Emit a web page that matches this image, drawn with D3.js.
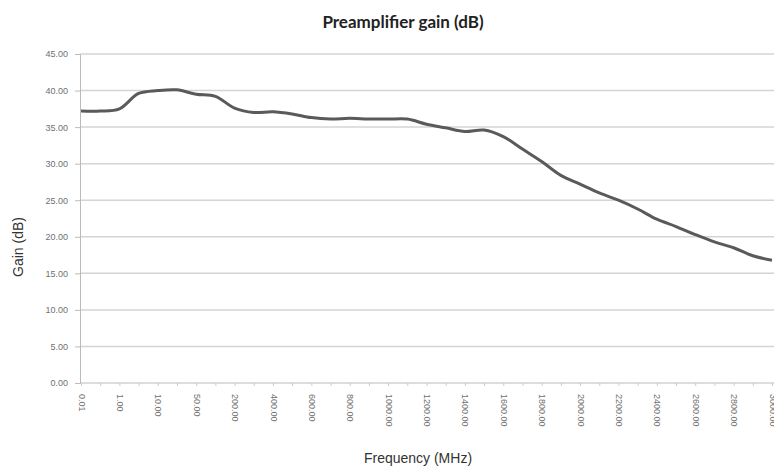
<!DOCTYPE html>
<html>
<head>
<meta charset="utf-8">
<title>Preamplifier gain</title>
<script src="https://d3js.org/d3.v7.min.js"></script>
<style>
  body { margin: 0; background: #fff; }
  svg { display: block; }
  .title { font-family: Lato, "Open Sans", sans-serif; font-weight: bold; font-size: 17px; fill: #222; }
  .axis-title { font-family: "Liberation Sans", Arial, sans-serif; font-size: 14px; fill: #333; }
  .tick-label { font-family: "Liberation Sans", Arial, sans-serif; font-size: 9px; fill: #707070; }
</style>
</head>
<body>
<svg id="chart" width="774" height="469"></svg>
<script>
// frequency categories (MHz) and measured gain (dB)
var freqs = [0.01, 0.1, 1, 5, 10, 20, 50, 100,
  200, 300, 400, 500, 600, 700, 800, 900, 1000, 1100, 1200, 1300, 1400, 1500,
  1600, 1700, 1800, 1900, 2000, 2100, 2200, 2300, 2400, 2500, 2600, 2700, 2800, 2900, 3000];
var gain = [37.2, 37.2, 37.5, 39.6, 40.0, 40.1, 39.5, 39.2,
  37.6, 37.0, 37.1, 36.8, 36.3, 36.1, 36.2, 36.1, 36.1, 36.1, 35.4, 34.9, 34.4, 34.6,
  33.7, 32.0, 30.3, 28.4, 27.2, 26.0, 25.0, 23.8, 22.4, 21.4, 20.3, 19.3, 18.5, 17.4, 16.8];
var yTicks = [0, 5, 10, 15, 20, 25, 30, 35, 40, 45];

var svg = d3.select('#chart');
var plotLeft = 80, plotRight = 773, plotTop = 54, plotBottom = 383;

var x = d3.scalePoint()
  .domain(freqs.map(function(d, i) { return i; }))
  .range([plotLeft + 1, plotRight - 1]);
var y = d3.scaleLinear().domain([0, 45]).range([plotBottom, plotTop]);

// gridlines
svg.append('g').selectAll('line')
  .data(yTicks.filter(function(d) { return d > 0; })).enter()
  .append('line')
  .attr('x1', plotLeft).attr('x2', 774)
  .attr('y1', function(d) { return y(d); })
  .attr('y2', function(d) { return y(d); })
  .attr('stroke', '#d4d4d4').attr('stroke-width', 1.5);

// y axis
var yAxis = svg.append('g')
  .attr('transform', 'translate(' + plotLeft + ',0)')
  .call(d3.axisLeft(y).tickValues(yTicks).tickSize(5).tickFormat(d3.format('.2f')));
yAxis.select('.domain').attr('stroke', '#bbb');
yAxis.selectAll('.tick line').attr('stroke', '#bbb');
yAxis.selectAll('.tick text').attr('class', 'tick-label').attr('x', -12);

// x axis
var xAxis = svg.append('g')
  .attr('transform', 'translate(0,' + plotBottom + ')')
  .call(d3.axisBottom(x).tickSize(3).tickFormat(function(i) {
    return i % 2 === 0 ? d3.format('.2f')(freqs[i]) : '';
  }));
xAxis.select('.domain').attr('stroke', '#bbb').attr('d', 'M' + plotLeft + ',0H774');
xAxis.selectAll('.tick line').attr('stroke', '#ccc');
xAxis.selectAll('.tick text')
  .attr('class', 'tick-label')
  .attr('transform', 'rotate(90)')
  .attr('x', 11).attr('y', 0).attr('dy', '0.32em')
  .style('text-anchor', 'start');

// line
var line = d3.line()
  .x(function(d, i) { return x(i); })
  .y(function(d) { return y(d); })
  .curve(d3.curveCatmullRom.alpha(0.5));

svg.append('path')
  .datum(gain)
  .attr('d', line)
  .attr('fill', 'none')
  .attr('stroke', '#5a5a5a')
  .attr('stroke-width', 3)
  .attr('stroke-linejoin', 'round');

// titles
svg.append('text').attr('class', 'title')
  .attr('x', 403).attr('y', 28).attr('text-anchor', 'middle')
  .text('Preamplifier gain (dB)');
svg.append('text').attr('class', 'axis-title')
  .attr('x', 418).attr('y', 463).attr('text-anchor', 'middle')
  .text('Frequency (MHz)');
svg.append('text').attr('class', 'axis-title')
  .attr('transform', 'translate(23,247) rotate(-90)')
  .attr('text-anchor', 'middle')
  .text('Gain (dB)');
</script>
</body>
</html>
